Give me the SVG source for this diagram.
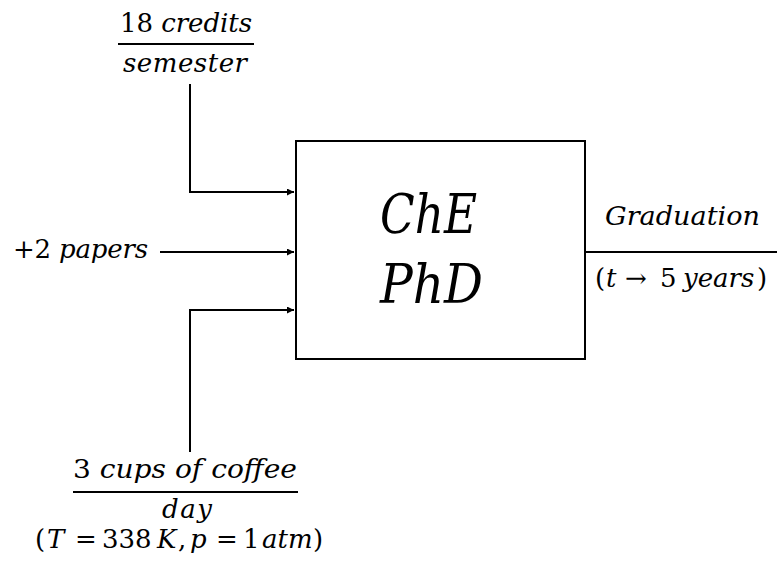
<svg xmlns="http://www.w3.org/2000/svg" width="777" height="561" viewBox="0 0 777 561">
<style>
text{font-family:"DejaVu Serif","Liberation Serif",serif;font-size:26px;fill:#000}
.i{font-style:italic}
.big{font-size:55px;font-style:italic}
.ln{fill:none;stroke:#000;stroke-width:2}
</style>
<defs>
<marker id="ah" markerUnits="userSpaceOnUse" markerWidth="8" markerHeight="8" refX="7" refY="3.5" orient="auto">
<path d="M0,0 L7,3.5 L0,7 Z" fill="#000"/>
</marker>
</defs>
<rect width="777" height="561" fill="#fff"/>
<g id="connectors">
<path class="ln" d="M190,84 V192 H294" marker-end="url(#ah)"/>
<path class="ln" d="M160,252 H294" marker-end="url(#ah)"/>
<path class="ln" d="M190,452 V310 H294" marker-end="url(#ah)"/>
<path class="ln" d="M585,252 H777"/>
</g>
<g id="box">
<rect x="296" y="141" width="289" height="218" fill="#fff" stroke="#000" stroke-width="2"/>
<text class="big" x="380" y="233" textLength="97" lengthAdjust="spacingAndGlyphs">ChE</text>
<text class="big" x="380" y="303" textLength="103" lengthAdjust="spacingAndGlyphs">PhD</text>
</g>
<g id="credits">
<text x="120" y="32" textLength="132" lengthAdjust="spacing">18 <tspan class="i">credits</tspan></text>
<line x1="118" y1="44" x2="254" y2="44" stroke="#000" stroke-width="2"/>
<text class="i" x="123" y="72" textLength="124" lengthAdjust="spacing">semester</text>
</g>
<g id="papers">
<text x="13" y="258" textLength="135" lengthAdjust="spacing">+2 <tspan class="i">papers</tspan></text>
</g>
<g id="coffee">
<text x="73" y="478" textLength="224" lengthAdjust="spacingAndGlyphs">3 <tspan class="i">cups of coffee</tspan></text>
<line x1="73" y1="492" x2="298" y2="492" stroke="#000" stroke-width="2"/>
<text class="i" x="162" y="518" textLength="50" lengthAdjust="spacing">day</text>
<text y="548"><tspan x="35">(</tspan><tspan class="i" x="47">T</tspan><tspan x="75">=</tspan><tspan x="102">338</tspan><tspan class="i" x="157">K</tspan><tspan x="178">,</tspan><tspan class="i" x="190">p</tspan><tspan x="216">=</tspan><tspan x="243">1</tspan><tspan class="i" x="262">atm</tspan><tspan x="313">)</tspan></text>
</g>
<g id="graduation">
<text class="i" x="605" y="225" textLength="155" lengthAdjust="spacingAndGlyphs">Graduation</text>
<text y="287"><tspan x="595">(</tspan><tspan class="i" x="606">t</tspan><tspan x="625">→</tspan><tspan x="660">5</tspan><tspan class="i" x="683">years</tspan><tspan x="757">)</tspan></text>
</g>
</svg>
